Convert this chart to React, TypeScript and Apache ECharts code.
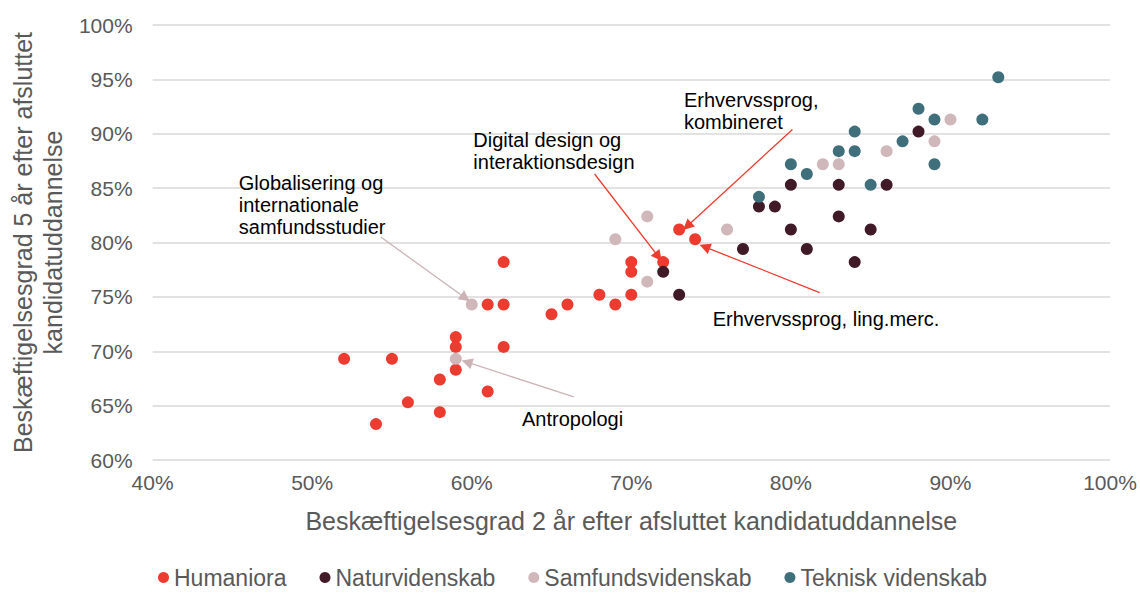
import React, { useEffect, useRef } from "react";
import * as echarts from "echarts";

// x = Beskæftigelsesgrad 2 år (%), y = Beskæftigelsesgrad 5 år (%)
const humaniora: number[][] = [
  [62, 78.2], [61, 74.3], [62, 74.3], [65, 73.4], [59, 71.3], [59, 70.4], [62, 70.4],
  [52, 69.3], [55, 69.3], [59, 68.3], [58, 67.4], [61, 66.3], [56, 65.3], [58, 64.4],
  [54, 63.3], [73, 81.2], [74, 80.3], [70, 78.2], [72, 78.2], [70, 77.3], [68, 75.2],
  [70, 75.2], [66, 74.3], [69, 74.3],
];
const naturvidenskab: number[][] = [
  [72, 77.3], [73, 75.2], [77, 79.4], [78, 83.3], [79, 83.3], [80, 85.3], [83, 85.3],
  [86, 85.3], [83, 82.4], [80, 81.2], [85, 81.2], [81, 79.4], [84, 78.2], [88, 90.2],
];
const samfundsvidenskab: number[][] = [
  [60, 74.3], [59, 69.3], [71, 82.4], [76, 81.2], [69, 80.3], [71, 76.4], [82, 87.2],
  [83, 87.2], [86, 88.4], [89, 89.3], [90, 91.3],
];
const tekniskVidenskab: number[][] = [
  [78, 84.2], [80, 87.2], [81, 86.3], [83, 88.4], [84, 88.4], [84, 90.2], [85, 85.3],
  [87, 89.3], [88, 92.3], [89, 91.3], [89, 87.2], [92, 91.3], [93, 95.2],
];

const seriesNames = ["Humaniora", "Naturvidenskab", "Samfundsvidenskab", "Teknisk videnskab"];
const seriesColors = ["#EE3B2F", "#401A27", "#CFB7BA", "#3E6F7A"];

const xAxisTitle = "Beskæftigelsesgrad 2 år efter afsluttet kandidatuddannelse";
const yAxisTitle = "Beskæftigelsesgrad 5 år efter afsluttet\nkandidatuddannelse";

// Annotation labels (top-left corner in data coordinates)
const annotationLabels = [
  { text: "Globalisering og\ninternationale\nsamfundsstudier", at: [45.4, 86.5] },
  { text: "Digital design og\ninteraktionsdesign", at: [60.1, 90.4] },
  { text: "Erhvervssprog,\nkombineret", at: [73.3, 94.1] },
  { text: "Erhvervssprog, ling.merc.", at: [75.1, 74.0] },
  { text: "Antropologi", at: [63.15, 64.8] },
];
// Arrows (from -> to) in data coordinates
const redArrows = [
  [[67.7, 86.3], [71.7, 78.7]],
  [[80.1, 90.4], [73.5, 81.5]],
  [[81.8, 75.4], [74.6, 79.6]],
];
const greyArrows = [
  [[54.3, 80.5], [59.6, 74.9]],
  [[66.4, 65.8], [59.7, 69.0]],
];

const FONT = "'Liberation Sans', Arial, Helvetica, sans-serif";

function arrowMarkLine(arrows: number[][][], color: string) {
  return {
    silent: true,
    symbol: ["none", "triangle"],
    symbolSize: 11,
    label: { show: false },
    lineStyle: { color, width: 1.3, type: "solid" },
    data: arrows.map(([a, b]) => [{ coord: a }, { coord: b }]),
  };
}

export default function App() {
  const ref = useRef<HTMLDivElement>(null);
  useEffect(() => {
    document.body.style.margin = "0";
    if (!ref.current) return;
    const chart = echarts.init(ref.current, undefined, { renderer: "svg" });
    const datasets = [humaniora, naturvidenskab, samfundsvidenskab, tekniskVidenskab];
    chart.setOption({
      animation: false,
      textStyle: { fontFamily: FONT },
      grid: { left: 145, right: 30, top: 25, bottom: 133, containLabel: false },
      legend: {
        data: seriesNames,
        top: 566,
        left: 158,
        padding: 0,
        icon: "circle",
        itemWidth: 11,
        itemHeight: 11,
        itemGap: 33,
        textStyle: { fontSize: 23, color: "#595959", fontFamily: FONT },
      },
      xAxis: {
        type: "value",
        min: 40,
        max: 100,
        interval: 10,
        axisLine: { show: false },
        axisTick: { show: false },
        splitLine: { show: false },
        axisLabel: {
          formatter: (v: number) => `${v}%`,
          fontSize: 21,
          color: "#595959",
          margin: 12,
          fontFamily: FONT,
        },
        name: xAxisTitle,
        nameLocation: "middle",
        nameGap: 48,
        nameTextStyle: { fontSize: 25, color: "#595959", fontFamily: FONT },
      },
      yAxis: {
        type: "value",
        min: 60,
        max: 100,
        interval: 5,
        axisLine: { show: false },
        axisTick: { show: false },
        splitLine: { show: true, lineStyle: { color: "#D9D9D9", width: 1.5 } },
        axisLabel: {
          formatter: (v: number) => `${v}%`,
          fontSize: 21,
          color: "#595959",
          margin: 20,
          fontFamily: FONT,
        },
        name: yAxisTitle,
        nameLocation: "middle",
        nameGap: 80,
        nameTextStyle: { fontSize: 25, color: "#595959", lineHeight: 30, fontFamily: FONT },
      },
      series: seriesNames.map((name, i) => ({
        name,
        type: "scatter",
        data: datasets[i],
        symbol: "circle",
        symbolSize: 12,
        itemStyle: { color: seriesColors[i], opacity: 1 },
        z: 3,
        markLine:
          i === 0
            ? arrowMarkLine(redArrows, "#EE3B2F")
            : i === 2
            ? arrowMarkLine(greyArrows, "#CBB3B6")
            : undefined,
      })),
    });
    chart.setOption({
      graphic: annotationLabels.map((a) => {
        const p = chart.convertToPixel({ gridIndex: 0 }, a.at) as number[];
        return {
          type: "text",
          x: p[0],
          y: p[1],
          silent: true,
          style: {
            text: a.text,
            fontSize: 20,
            lineHeight: 22,
            fill: "#000000",
            fontFamily: FONT,
            textAlign: "left",
            textVerticalAlign: "top",
          },
        };
      }),
    });
    return () => chart.dispose();
  }, []);
  return <div ref={ref} style={{ width: 1140, height: 593 }} />;
}
